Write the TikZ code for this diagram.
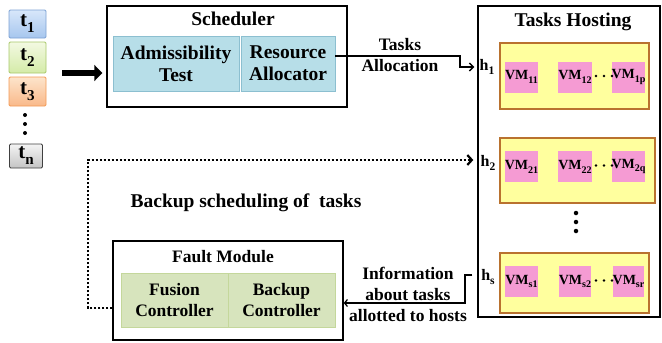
\documentclass[tikz,border=0pt]{standalone}
\usepackage{fontspec}
\setmainfont{Liberation Serif}
\usetikzlibrary{arrows.meta}
\newcommand\fsz[1]{\fontsize{#1}{#1}\selectfont}

\definecolor{tblueT}{HTML}{D8E7FA}
\definecolor{tblueB}{HTML}{A6C6EE}
\definecolor{tblueD}{HTML}{7DA2D4}
\definecolor{tgreenT}{HTML}{F3F9E2}
\definecolor{tgreenB}{HTML}{D4EBA8}
\definecolor{tgreenD}{HTML}{A8C86A}
\definecolor{torangeT}{HTML}{FDE4CB}
\definecolor{torangeB}{HTML}{F9B98A}
\definecolor{torangeD}{HTML}{F39A55}
\definecolor{tgrayT}{HTML}{F4F4F4}
\definecolor{tgrayB}{HTML}{C4C4C4}
\definecolor{tgrayD}{HTML}{404040}
\definecolor{schedfill}{HTML}{B7DEE8}
\definecolor{scheddraw}{HTML}{8CBFD0}
\definecolor{faultfill}{HTML}{D7E4BD}
\definecolor{faultdraw}{HTML}{C4D79B}
\definecolor{hostfill}{HTML}{FFFF9E}
\definecolor{hostdraw}{HTML}{B9722F}
\definecolor{vmfill}{HTML}{F59BD3}

% subscript set a little larger and lower than \textsubscript
\newcommand\lowidx[1]{\raisebox{-0.28em}{\scalebox{0.72}{#1}}}

\begin{document}
\begin{tikzpicture}[x=1pt,y=-1pt,
  font=\bfseries,
  tbox/.style={draw, line width=0.8pt, minimum width=37pt, inner sep=0pt,
    rounded corners=1.2pt, font=\bfseries\fsz{21}},
  frame/.style={draw, line width=1.4pt, inner sep=0pt},
  title/.style={inner sep=0pt},
  schedbox/.style={draw=scheddraw, fill=schedfill, line width=0.8pt, inner sep=0pt,
    minimum height=55pt, align=center, font=\bfseries\fontsize{19.5}{22}\selectfont},
  faultbox/.style={draw=faultdraw, fill=faultfill, line width=0.8pt, inner sep=0pt,
    minimum width=107pt, minimum height=54pt, align=center,
    font=\bfseries\fontsize{17.5}{21}\selectfont},
  hostbox/.style={draw=hostdraw, fill=hostfill, line width=1.1pt, inner sep=0pt},
  vm/.style={fill=vmfill, minimum width=31pt, minimum height=31pt, inner sep=0pt,
    font=\bfseries\fsz{14}},
  hlabel/.style={inner sep=0pt, font=\bfseries\fsz{16}},
  note/.style={inner sep=0pt, align=center, font=\bfseries\fontsize{17.5}{21}\selectfont},
  flow/.style={line width=1.3pt, -{Straight Barb[length=4pt,width=8pt,line width=1.3pt]}},
  backup/.style={line width=2.4pt, dash pattern=on 2pt off 2pt,
    -{Straight Barb[length=4.5pt,width=10pt,line width=2.2pt]}},
  feed/.style={line width=5.5pt, -{Triangle[length=8pt,width=16pt]}},
  dot/.style={circle, fill=black, inner sep=0pt, minimum size=#1}
]
\useasboundingbox (0,0) rectangle (662,343);

% incoming tasks
\node[tbox, top color=tblueT, bottom color=tblueB, draw=tblueD, minimum height=28pt]
  (t1) at (27.5,24) {t\lowidx{1}};
\node[tbox, top color=tgreenT, bottom color=tgreenB, draw=tgreenD, minimum height=31pt]
  (t2) at (27.5,57.5) {t\lowidx{2}};
\node[tbox, top color=torangeT, bottom color=torangeB, draw=torangeD, minimum height=29pt]
  (t3) at (27.5,91.5) {t\lowidx{3}};
\node[dot=4pt] (td1) at (25,115) {};
\node[dot=4pt] (td2) at (25,124) {};
\node[dot=4pt] (td3) at (25,133) {};
\node[tbox, top color=tgrayT, bottom color=tgrayB, draw=tgrayD, minimum width=33pt,
  minimum height=24pt] (tn) at (26,156) {t\lowidx{n}};

% scheduler
\node[frame, minimum width=240pt, minimum height=101pt] (sched) at (227,56.5) {};
\node[title, font=\bfseries\fsz{19.5}] (schedT) at (233,19) {Scheduler};
\node[schedbox, minimum width=126pt] (adm) at (176,63.5) {Admissibility\\Test};
\node[schedbox, minimum width=94pt] (ra) at (288,63.5) {Resource\\Allocator};

\coordinate (feedstart) at (62,73);
\draw[feed] (feedstart) -- ([xshift=-4pt]sched.west |- feedstart);

% hosting area
\node[frame, minimum width=182pt, minimum height=311pt] (hosting) at (569,161.5) {};
\node[title, font=\bfseries\fsz{19.5}] (hostT) at (573,22) {Tasks Hosting};

\node[hostbox, minimum width=149pt, minimum height=66pt] (host1) at (574.5,76) {};
\node[hostbox, minimum width=155pt, minimum height=65pt] (host2) at (577.5,170.5) {};
\node[hostbox, minimum width=149pt, minimum height=60pt] (hosts) at (574.5,283) {};

\node[hlabel] (h1) at (487,67) {h\lowidx{1}};
\node[hlabel] (h2) at (488,163) {h\lowidx{2}};
\node[hlabel] (hs) at (488,277) {h\lowidx{s}};

\node[vm] (vm11) at (521.5,77) {VM\lowidx{11}};
\node[vm] (vm12) at (575,77) {VM\lowidx{12}};
\node[vm] (vm1p) at (628.5,77) {VM\lowidx{1p}};
\node[vm] (vm21) at (521.5,166.5) {VM\lowidx{21}};
\node[vm] (vm22) at (575,166.5) {VM\lowidx{22}};
\node[vm] (vm2q) at (628.5,166.5) {VM\lowidx{2q}};
\node[vm] (vms1) at (521.5,281.5) {VM\lowidx{s1}};
\node[vm] (vms2) at (575,281.5) {VM\lowidx{s2}};
\node[vm] (vmsr) at (628.5,281.5) {VM\lowidx{sr}};

\foreach \r/\y in {1/76, 2/165.5, 3/280.5} {
  \node[dot=2.6pt] (gap\r a) at (596,\y) {};
  \node[dot=2.6pt] (gap\r b) at (604,\y) {};
  \node[dot=2.6pt] (gap\r c) at (612,\y) {};
}
\node[dot=4.5pt] (hd1) at (576,213) {};
\node[dot=4.5pt] (hd2) at (576,222) {};
\node[dot=4.5pt] (hd3) at (576,231) {};

% task allocation
\node[note] (allocT) at (400,45) {Tasks};
\node[note] (allocA) at (400,66) {Allocation};
\draw[flow] (ra.east |- 0,56) -- (460,56) -- (460,67) -- ([xshift=-3pt]hosting.west |- h1);

% fault module
\node[frame, minimum width=230pt, minimum height=99pt] (fault) at (228,290.5) {};
\node[title, font=\bfseries\fsz{17.5}] (faultT) at (223,257) {Fault Module};
\node[faultbox] (fus) at (174.5,300) {Fusion\\Controller};
\node[faultbox] (bak) at (281.5,300) {Backup\\Controller};

% information flow back to the fault module
\node[note] (info1) at (408,273) {Information};
\node[note] (info2) at (408,295) {about tasks};
\node[note] (info3) at (408,316) {allotted to hosts};
\draw[line width=1.3pt, -{Straight Barb[length=3pt,width=7pt,line width=1.2pt]}]
  ([xshift=-5pt]hosting.west |- 0,275) -- (465,275) -- (465,303) -- (fault.east |- 0,303);

% backup scheduling path
\node[inner sep=0pt, font=\bfseries\fsz{19.5}] (bkT) at (246,203) {Backup scheduling of~ tasks};
\draw[backup] (fault.west |- 0,308) -- (88,308) -- (88,160) -- ([xshift=-4pt]hosting.west |- 0,160);

\end{tikzpicture}
\end{document}
